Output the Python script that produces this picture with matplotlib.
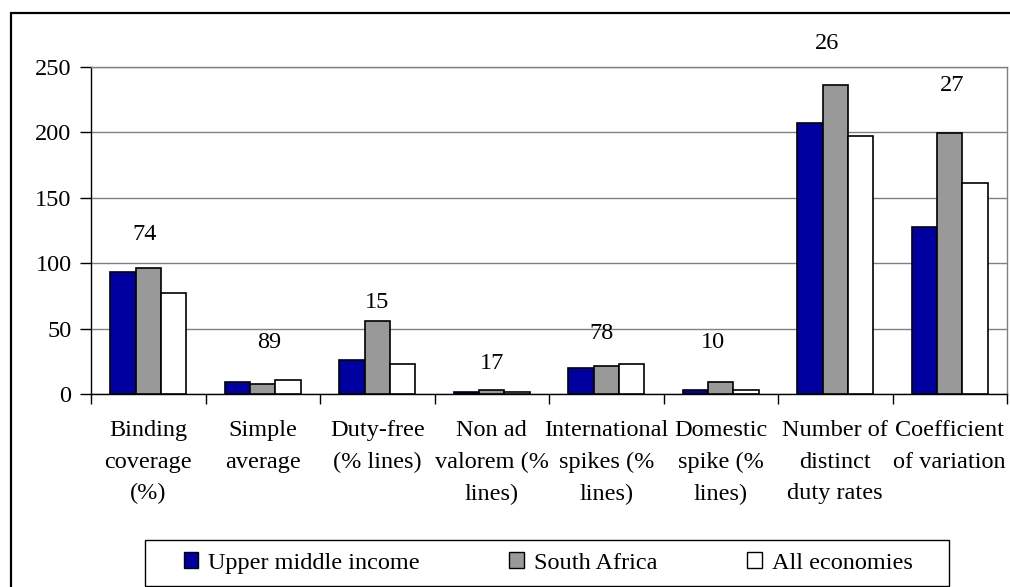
import numpy as np
import matplotlib
matplotlib.use("Agg")
import matplotlib.pyplot as plt
import matplotlib.patches as mpatches

categories = ["Binding\ncoverage\n(%)", "Simple\naverage", "Duty-free\n(% lines)",
              "Non ad\nvalorem (%\nlines)", "International\nspikes (%\nlines)",
              "Domestic\nspike (%\nlines)", "Number of\ndistinct\nduty rates",
              "Coefficient\nof variation"]
series_names = ["Upper middle income", "South Africa", "All economies"]
upper_middle = [93, 9, 25.7, 1.3, 19.6, 3, 207, 128]
south_africa = [96, 7.4, 56, 3.1, 21.2, 9.2, 236, 199.5]
all_economies = [77, 10.7, 22.7, 1.5, 22.7, 2.8, 197, 161.5]
extra_labels = ["74", "89", "15", "17", "78", "10", "26", "27"]

# where the stray numbers sit (data units)
label_dx = [-0.03, 0.06, 0.0, 0.0, -0.04, -0.07, -0.07, 0.02]
label_y = [121.6, 39, 70, 23.7, 46.6, 39, 268, 235.5]

colors = ["#0000A0", "#999999", "#FFFFFF"]

plt.rcParams["font.family"] = ["Liberation Serif", "DejaVu Serif"]
FS = 17.5

fig = plt.figure(figsize=(10.1, 5.87), dpi=100)
ax = fig.add_axes([91 / 1010, 1 - 394 / 587, (1007 - 91) / 1010, (394 - 67) / 587])

x = np.arange(len(categories))
width = 0.222
handles = []
for i, (vals, name, col) in enumerate(zip([upper_middle, south_africa, all_economies], series_names, colors)):
    ax.bar(x + (i - 1) * width, vals, width, color=col, edgecolor="black", linewidth=1.2, zorder=3)
    handles.append(mpatches.Patch(facecolor=col, edgecolor="black", linewidth=1.0, label=name))

for xi, dx, y, t in zip(x, label_dx, label_y, extra_labels):
    ax.text(xi + dx, y, t, ha="center", va="center", fontsize=FS, clip_on=False, zorder=4)

ax.set_xlim(-0.5, len(categories) - 0.5)
ax.set_ylim(0, 250)
ax.set_yticks(np.arange(0, 251, 50))
ax.yaxis.grid(True, color="#808080", linewidth=1.0, zorder=0)
ax.set_axisbelow(True)

ax.set_xticks(x, labels=categories, fontsize=FS, linespacing=1.65)
ax.set_xticks(np.arange(-0.5, len(categories), 1), minor=True)
ax.tick_params(axis="x", which="major", length=0, pad=19)
ax.tick_params(axis="x", which="minor", length=7, width=1, direction="out", color="black")
ax.tick_params(axis="y", length=8, width=1, labelsize=FS, pad=6, color="black")

for s in ["top", "right"]:
    ax.spines[s].set_color("#808080")
    ax.spines[s].set_linewidth(1.0)
for s in ["left", "bottom"]:
    ax.spines[s].set_color("black")
    ax.spines[s].set_linewidth(1.0)

# outer chart frame
fig.patches.append(mpatches.Rectangle((11 / 1010, -0.1), 1.2, 1 - 13 / 587 + 0.1,
                                      transform=fig.transFigure, fill=False,
                                      edgecolor="black", linewidth=1.6))
# legend frame
fig.patches.append(mpatches.Rectangle((145 / 1010, 1 - 586 / 587), (949 - 145) / 1010, 46 / 587,
                                      transform=fig.transFigure, fill=False,
                                      edgecolor="black", linewidth=1.0))

fig.legend(handles=handles, loc="center", bbox_to_anchor=(548 / 1010, 1 - 563 / 587),
           ncol=3, frameon=False, fontsize=FS, handlelength=0.6, handleheight=0.6,
           handletextpad=0.4, columnspacing=3.7)

plt.savefig("out.png", dpi=100)
